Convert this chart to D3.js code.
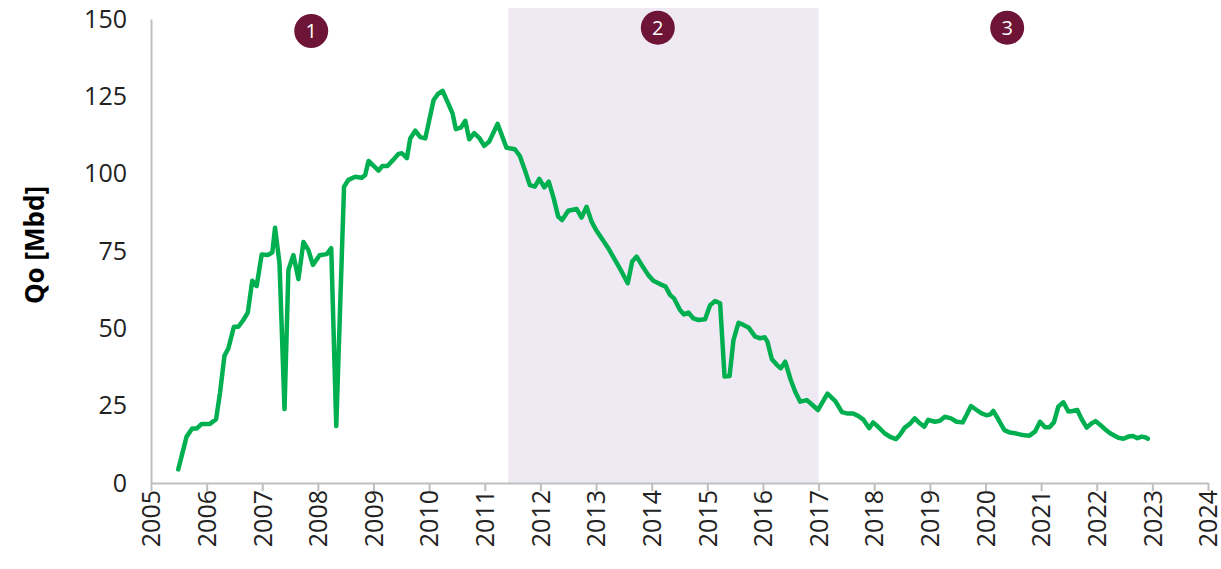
<!DOCTYPE html>
<html><head><meta charset="utf-8">
<script src="https://cdn.jsdelivr.net/npm/d3@7"></script>
<style>
html,body{margin:0;padding:0;background:#fff;}
svg{display:block;}
</style></head>
<body>
<svg id="chart" width="1221" height="569"></svg>
<script>
// ---- data ----
const years = [
2005.49,2005.64,2005.74,2005.82,2005.91,2006.06,2006.17,2006.24,2006.32,2006.39,2006.49,2006.57,2006.66,2006.74,2006.82,2006.90,2006.99,
2007.10,2007.18,2007.23,2007.31,2007.40,2007.47,2007.56,2007.65,2007.74,2007.83,2007.91,2008.03,2008.16,2008.24,2008.33,2008.47,2008.55,
2008.67,2008.79,2008.85,2008.91,2009.09,2009.16,2009.25,2009.34,2009.45,2009.51,2009.60,2009.66,2009.75,2009.84,2009.93,2010.08,2010.16,
2010.24,2010.34,2010.42,2010.48,2010.57,2010.65,2010.72,2010.81,2010.90,2010.99,2011.08,2011.23,2011.39,2011.54,2011.63,2011.71,2011.81,
2011.90,2011.98,2012.07,2012.15,2012.23,2012.32,2012.39,2012.50,2012.65,2012.74,2012.83,2012.92,2013.00,2013.10,2013.22,2013.34,2013.46,
2013.57,2013.65,2013.73,2013.82,2013.94,2014.03,2014.15,2014.25,2014.33,2014.40,2014.51,2014.58,2014.66,2014.75,2014.84,2014.96,2015.05,
2015.14,2015.23,2015.31,2015.40,2015.47,2015.56,2015.65,2015.74,2015.86,2015.95,2016.03,2016.08,2016.16,2016.25,2016.32,2016.40,2016.50,
2016.58,2016.67,2016.79,2016.89,2016.99,2017.16,2017.30,2017.42,2017.51,2017.62,2017.71,2017.80,2017.91,2017.98,2018.07,2018.19,2018.30,
2018.39,2018.46,2018.55,2018.64,2018.73,2018.82,2018.90,2018.97,2019.09,2019.18,2019.27,2019.38,2019.48,2019.59,2019.66,2019.74,2019.84,
2019.93,2020.02,2020.09,2020.14,2020.23,2020.34,2020.44,2020.53,2020.62,2020.71,2020.79,2020.89,2020.98,2021.07,2021.15,2021.23,2021.31,
2021.40,2021.49,2021.57,2021.65,2021.73,2021.82,2021.91,2021.98,2022.06,2022.15,2022.24,2022.33,2022.39,2022.48,2022.57,2022.65,2022.73,
2022.81,2022.87,2022.92];
const qo = [
4.4,15.0,17.6,17.6,19.1,19.1,20.6,29.1,41.1,43.5,50.5,50.5,52.7,55.1,65.4,63.7,73.9,
73.7,74.5,82.5,71.0,23.9,68.9,73.7,65.9,77.9,75.3,70.5,73.6,74.0,75.9,18.4,95.8,98.0,
99.0,98.7,99.6,104.1,101.0,102.5,102.5,104.2,106.4,106.6,105.0,111.4,113.9,111.8,111.4,123.8,125.8,
126.8,122.8,119.5,114.4,114.9,117.1,111.1,113.1,111.6,109.0,110.4,116.1,108.4,107.9,105.7,101.7,96.3,
95.8,98.3,95.6,97.4,92.6,86.1,85.0,88.0,88.6,85.8,89.3,84.5,81.8,79.1,75.9,72.1,68.3,
64.6,71.6,73.2,70.5,67.2,65.4,64.3,63.5,60.8,59.7,55.9,54.5,55.1,53.2,52.7,52.9,57.5,
58.8,58.1,34.4,34.6,46.2,51.8,51.1,50.3,47.3,46.8,47.1,45.7,40.0,38.2,37.1,39.2,33.3,
29.5,26.3,26.8,25.2,23.6,28.9,26.5,22.9,22.5,22.5,21.7,20.6,17.7,19.6,18.2,16.0,14.8,
14.2,15.5,17.9,19.1,20.9,19.3,18.2,20.4,19.8,20.1,21.4,20.9,19.8,19.6,22.0,24.9,23.6,
22.5,21.9,22.2,23.3,20.6,17.1,16.3,16.1,15.7,15.4,15.3,16.6,19.8,18.0,18.0,19.6,24.7,
26.1,23.1,23.3,23.6,20.6,17.9,19.3,20.0,18.8,17.4,16.1,15.2,14.6,14.3,15.0,15.2,14.5,
15.0,14.8,14.3];
const xTicks = d3.range(2005, 2025);
const yTicks = [0, 25, 50, 75, 100, 125, 150];
const phaseLabels = ["1", "2", "3"];
const phaseYears = [2007.88, 2014.11, 2020.39];
const phaseValues = [146.1, 147.2, 147.2];
const shadedRange = [2011.42, 2017.0];
const yTitle = "Qo [Mbd]";

// ---- layout ----
const svg = d3.select("#chart");
const x = d3.scaleLinear().domain([2005, 2024]).range([151, 1208]);
const y = d3.scaleLinear().domain([0, 150]).range([483, 19]);
const axisColor = "#BFBFBF";
const font = "'Open Sans', sans-serif";

// shaded phase 2
svg.append("rect")
  .attr("x", x(shadedRange[0]))
  .attr("y", y(150) - 11)
  .attr("width", x(shadedRange[1]) - x(shadedRange[0]))
  .attr("height", y(0) - y(150) + 11)
  .attr("fill", "#EFE9F4");

// x axis
const xAxis = svg.append("g").attr("transform", `translate(0,${y(0)})`)
  .call(d3.axisBottom(x).tickValues(xTicks).tickFormat(d3.format("d")).tickSize(8).tickSizeOuter(0));
xAxis.select(".domain").attr("stroke", axisColor).attr("stroke-width", 2);
xAxis.selectAll(".tick line").attr("stroke", axisColor).attr("stroke-width", 2);
xAxis.selectAll(".tick text")
  .attr("font-family", font).attr("font-size", 25).attr("fill", "#222")
  .attr("transform", "rotate(-90)")
  .attr("text-anchor", "end")
  .attr("x", -7).attr("y", 0).attr("dy", "0.35em");

// y axis
const yAxis = svg.append("g").attr("transform", `translate(${x(2005)},0)`)
  .call(d3.axisLeft(y).tickValues(yTicks).tickSize(0).tickPadding(24));
yAxis.select(".domain").attr("stroke", axisColor).attr("stroke-width", 2);
yAxis.selectAll(".tick text")
  .attr("font-family", font).attr("font-size", 25).attr("fill", "#222");

// y title
svg.append("text")
  .attr("transform", `translate(35,${(y(0) + y(150)) / 2 - 6}) rotate(-90)`)
  .attr("text-anchor", "middle").attr("dy", "0.35em")
  .attr("font-family", font).attr("font-weight", "bold").attr("font-size", 26)
  .attr("fill", "#000")
  .text(yTitle);

// line
const pts = years.map((d, i) => [d, qo[i]]);
svg.append("path")
  .datum(pts)
  .attr("fill", "none")
  .attr("stroke", "#00B050")
  .attr("stroke-width", 4.5)
  .attr("stroke-linejoin", "round")
  .attr("stroke-linecap", "round")
  .attr("d", d3.line().x(d => x(d[0])).y(d => y(d[1])));

// phase markers
const marks = svg.append("g").selectAll("g").data(phaseLabels).join("g")
  .attr("transform", (d, i) => `translate(${x(phaseYears[i])},${y(phaseValues[i])})`);
marks.append("circle").attr("r", 17).attr("fill", "#6E1436");
marks.append("text")
  .attr("text-anchor", "middle").attr("dy", "0.36em")
  .attr("font-family", font).attr("font-size", 20).attr("fill", "#fff")
  .text(d => d);
</script>
</body></html>
